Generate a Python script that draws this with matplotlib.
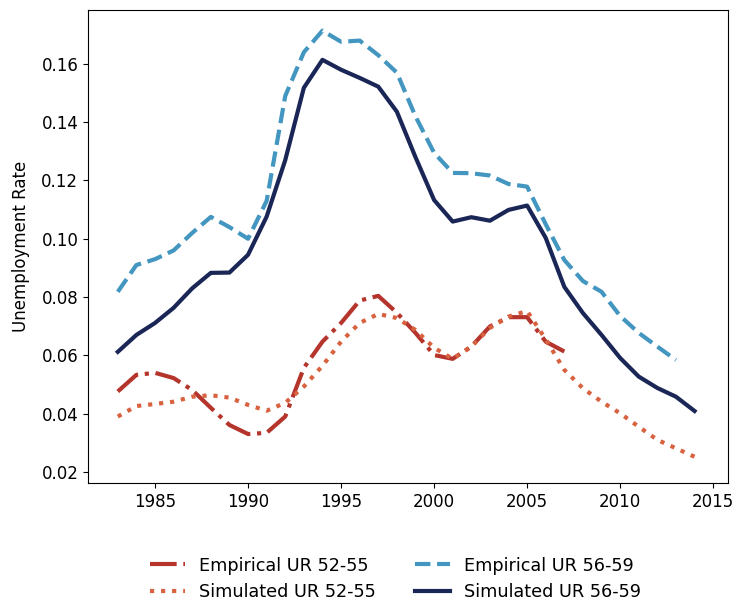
import matplotlib
matplotlib.use('Agg')
import matplotlib.pyplot as plt
import numpy as np

# unemployment rates by age group, empirical vs simulated
years_emp_52 = np.arange(1983, 2008)
emp_52 = [0.0476, 0.0533, 0.0540, 0.0522, 0.0481, 0.0420, 0.0361, 0.0330, 0.0334,
          0.0390, 0.0557, 0.0647, 0.0711, 0.0788, 0.0804, 0.0746, 0.0677, 0.0601,
          0.0588, 0.0630, 0.0699, 0.0731, 0.0731, 0.0647, 0.0613]

years_sim = np.arange(1983, 2015)
sim_52 = [0.0390, 0.0426, 0.0433, 0.0441, 0.0458, 0.0463, 0.0455, 0.0430, 0.0410,
          0.0437, 0.0493, 0.0564, 0.0647, 0.0711, 0.0742, 0.0728, 0.0687, 0.0626,
          0.0588, 0.0630, 0.0694, 0.0733, 0.0752, 0.0655, 0.0550, 0.0487, 0.0441,
          0.0401, 0.0355, 0.0310, 0.0281, 0.0252]

years_emp_56 = np.arange(1983, 2014)
emp_56 = [0.0818, 0.0910, 0.0930, 0.0960, 0.1020, 0.1075, 0.1040, 0.1000, 0.1130,
          0.1490, 0.1640, 0.1714, 0.1676, 0.1680, 0.1630, 0.1570, 0.1420, 0.1295,
          0.1226, 0.1225, 0.1217, 0.1188, 0.1179, 0.1050, 0.0927, 0.0855, 0.0818,
          0.0735, 0.0677, 0.0630, 0.0584]

sim_56 = [0.0612, 0.0670, 0.0711, 0.0763, 0.0830, 0.0883, 0.0884, 0.0945, 0.1076,
          0.1270, 0.1518, 0.1614, 0.1580, 0.1552, 0.1522, 0.1436, 0.1280, 0.1133,
          0.1059, 0.1074, 0.1062, 0.1099, 0.1114, 0.1003, 0.0835, 0.0745, 0.0670,
          0.0591, 0.0527, 0.0488, 0.0458, 0.0409]

fig = plt.figure(figsize=(7.36, 6.06), dpi=100)
ax = fig.add_axes([0.1196, 0.203, 0.8696, 0.7805])

ax.plot(years_emp_52, emp_52, '-.', color='#b5352c', lw=3, label='Empirical UR 52-55')
ax.plot(years_sim, sim_52, ':', color='#d8623f', lw=3, label='Simulated UR 52-55')
ax.plot(years_emp_56, emp_56, '--', color='#4396c0', lw=3, label='Empirical UR 56-59')
ax.plot(years_sim, sim_56, '-', color='#1a2656', lw=3, label='Simulated UR 56-59')

ax.set_xlim(1981.4, 2015.8)
ax.set_ylim(0.0162, 0.1785)
ax.set_xticks([1985, 1990, 1995, 2000, 2005, 2010, 2015])
ax.set_ylabel('Unemployment Rate', fontsize=12, labelpad=8)
ax.tick_params(labelsize=12)
ax.legend(loc='upper center', bbox_to_anchor=(0.48, -0.122), ncol=2, frameon=False,
          fontsize=12.7, columnspacing=2.2)

fig.savefig('out.png', dpi=100)
